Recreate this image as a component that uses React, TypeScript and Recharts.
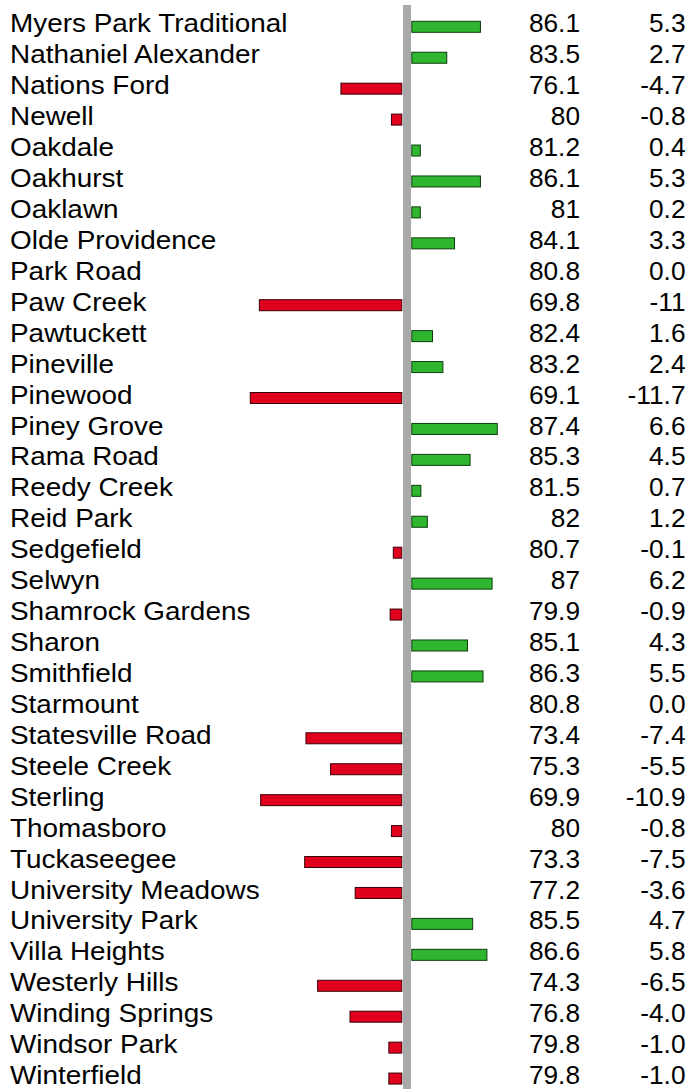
import React from "react";
import { BarChart, Bar, XAxis, YAxis, ReferenceLine } from "recharts";

const schools = [
  "Myers Park Traditional", "Nathaniel Alexander", "Nations Ford", "Newell", "Oakdale",
  "Oakhurst", "Oaklawn", "Olde Providence", "Park Road", "Paw Creek",
  "Pawtuckett", "Pineville", "Pinewood", "Piney Grove", "Rama Road",
  "Reedy Creek", "Reid Park", "Sedgefield", "Selwyn", "Shamrock Gardens",
  "Sharon", "Smithfield", "Starmount", "Statesville Road", "Steele Creek",
  "Sterling", "Thomasboro", "Tuckaseegee", "University Meadows", "University Park",
  "Villa Heights", "Westerly Hills", "Winding Springs", "Windsor Park", "Winterfield",
];

const scores = [
  86.1, 83.5, 76.1, 80, 81.2,
  86.1, 81, 84.1, 80.8, 69.8,
  82.4, 83.2, 69.1, 87.4, 85.3,
  81.5, 82, 80.7, 87, 79.9,
  85.1, 86.3, 80.8, 73.4, 75.3,
  69.9, 80, 73.3, 77.2, 85.5,
  86.6, 74.3, 76.8, 79.8, 79.8,
];

const changes = [
  5.3, 2.7, -4.7, -0.8, 0.4,
  5.3, 0.2, 3.3, 0.0, -11,
  1.6, 2.4, -11.7, 6.6, 4.5,
  0.7, 1.2, -0.1, 6.2, -0.9,
  4.3, 5.5, 0.0, -7.4, -5.5,
  -10.9, -0.8, -7.5, -3.6, 4.7,
  5.8, -6.5, -4.0, -1.0, -1.0,
];

const changeLabels = [
  "5.3", "2.7", "-4.7", "-0.8", "0.4",
  "5.3", "0.2", "3.3", "0.0", "-11",
  "1.6", "2.4", "-11.7", "6.6", "4.5",
  "0.7", "1.2", "-0.1", "6.2", "-0.9",
  "4.3", "5.5", "0.0", "-7.4", "-5.5",
  "-10.9", "-0.8", "-7.5", "-3.6", "4.7",
  "5.8", "-6.5", "-4.0", "-1.0", "-1.0",
];

const data = schools.map((name, i) => ({
  name,
  score: scores[i],
  change: changes[i],
  label: changeLabels[i],
}));

const FONT = "'Liberation Sans', Arial, Helvetica, sans-serif";
const GREEN = "#2fb52f";
const GREEN_STROKE = "#0b3d0b";
const RED = "#e0001e";
const RED_STROKE = "#3a0008";
const MIN_LEN = 8.5;

const BarShape = (props: any) => {
  const { x, y, width, height, payload } = props;
  const v = payload?.change;
  if (!v) return null;
  const l = Math.min(x, x + width);
  const r = Math.max(x, x + width);
  const len = Math.max(r - l, MIN_LEN);
  if (v > 0) {
    const x0 = l + 4.8;
    return (
      <rect x={x0} y={y} width={len} height={height} fill={GREEN} stroke={GREEN_STROKE} strokeWidth={1} />
    );
  }
  const end = r - 5.2;
  return (
    <rect x={end - len} y={y} width={len} height={height} fill={RED} stroke={RED_STROKE} strokeWidth={1} />
  );
};

const Tick = (props: any) => {
  const { y, payload } = props;
  const i = payload.index;
  const d = data[i];
  if (!d) return null;
  const by = y + 5.6;
  return (
    <g fontFamily={FONT} fontSize={25.5}>
      <text transform={`translate(10,${by}) scale(1.095,1)`} fill="#000">{d.name}</text>
      <text transform={`translate(580,${by}) scale(1.03,1)`} textAnchor="end" fill="#000">{String(d.score)}</text>
      <text transform={`translate(685.5,${by}) scale(1.03,1)`} textAnchor="end" fill="#000">{d.label}</text>
    </g>
  );
};

export default function App() {
  return (
    <div style={{ position: "absolute", left: 0, top: 0, width: 691, height: 1089, overflow: "hidden", background: "#fff" }}>
      <BarChart
        width={691}
        height={1089}
        data={data}
        layout="vertical"
        margin={{ top: 5, right: 0, bottom: -5, left: 0 }}
        barSize={11}
      >
        <XAxis type="number" hide domain={[-406 / 12.95, 284 / 12.95]} allowDataOverflow />
        <YAxis
          type="category"
          dataKey="name"
          width={1}
          axisLine={false}
          tickLine={false}
          interval={0}
          padding={{ top: 6.3, bottom: 0 }}
          tick={Tick}
        />
        <Bar dataKey="change" isAnimationActive={false} shape={<BarShape />} />
        <ReferenceLine x={0} stroke="#a9a9a9" strokeWidth={8} />
      </BarChart>
    </div>
  );
}
